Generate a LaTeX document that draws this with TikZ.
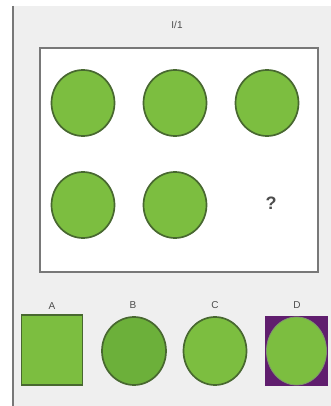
\documentclass[tikz,border=0pt]{standalone}
\usepackage{fontspec}
\setmainfont{Liberation Sans}
\usetikzlibrary{shapes.geometric, positioning}
\definecolor{figG}{RGB}{124,190,64}
\definecolor{figGd}{RGB}{108,176,58}
\definecolor{figE}{RGB}{72,104,48}
\definecolor{figP}{RGB}{96,30,110}
\definecolor{figBg}{RGB}{239,239,239}
\definecolor{figF}{RGB}{120,120,120}
\tikzset{
  blob/.style={ellipse, draw=figE, fill=figG, line width=1.7pt,
    minimum width=63pt, minimum height=66pt, inner sep=0pt},
  tag/.style={font=\fontsize{10}{11}\selectfont, text=black!70},
}

\begin{document}
\begin{tikzpicture}[x=1pt, y=-1pt]
\useasboundingbox (0,0) rectangle (331,406);
% ===== background panel =====
\fill[white] (0,0) rectangle (331,406);
\fill[figBg] (13,6) rectangle (331,406);
\draw[figF, line width=1.5pt] (13,6) -- (13,406);
% ===== puzzle board =====
\node[tag] (title) at (177,25) {I/1};
\draw[figF, fill=white, line width=1.6pt] (40,48) rectangle (318,272);
\foreach \n/\px/\py in {c1/83/103, c2/175/103, c3/267/103, c4/83/205, c5/175/205}
  \node[blob] (\n) at (\px,\py) {};
\node[font=\fontsize{18}{19}\selectfont\bfseries, text=black!70] (ask) at (271,203) {?};
% ===== answer options =====
\node[rectangle, draw=figE, fill=figG, line width=1.4pt, minimum width=61pt,
  minimum height=70pt, inner sep=0pt] (optA) at (52,350) {};
\node[blob, fill=figGd, minimum width=64pt, minimum height=68pt] (optB) at (134,351) {};
\node[blob, minimum width=63pt, minimum height=68pt] (optC) at (215,351) {};
\node[rectangle, fill=figP, minimum width=63pt, minimum height=70pt,
  inner sep=0pt] (optD) at (296.5,351) {};
\node[blob, line width=0.8pt, draw=figE!70!white, minimum width=60pt,
  minimum height=68pt] (optDin) at (optD.center) {};
\node[tag, above=1pt of optA] (labA) {A};
\node[tag] (labB) at (133,305) {B};
\node[tag] (labC) at (215,305) {C};
\node[tag] (labD) at (297,305) {D};
\end{tikzpicture}
\end{document}
